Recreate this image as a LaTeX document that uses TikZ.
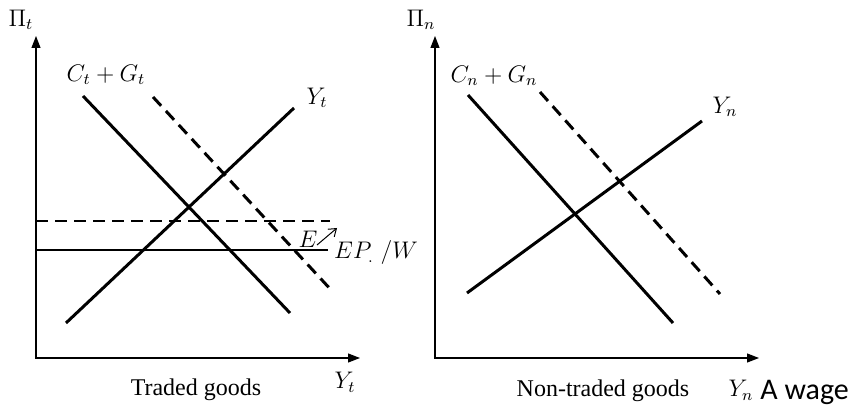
\documentclass[tikz,border=0pt]{standalone}
\usepackage{fontspec}
\setmainfont{Liberation Serif}
\newfontfamily\wagefont{Carlito}
\usepackage{amsmath, amssymb}
\usetikzlibrary{arrows.meta}

\begin{document}
\begin{tikzpicture}[x=0.5pt, y=-0.5pt,
    axis/.style={line width=0.6pt, {Triangle[length=6pt, width=4.5pt]}-{Triangle[length=6pt, width=4.5pt]}},
    curve/.style={line width=1.5pt},
    shifted/.style={curve, dash pattern=on 6pt off 3.5pt},
    every node/.style={inner sep=0pt, font=\fontsize{11.5}{13}\selectfont}]
    \useasboundingbox (0,0) rectangle (851,411);

    % Traded goods panel
    \coordinate (tTop) at (36,36);
    \coordinate (tO) at (36,358);
    \coordinate (tRight) at (360,358);
    \draw[axis] (tTop) -- (tO) -- (tRight);

    \coordinate (tCGa) at (83,96);
    \coordinate (tCGb) at (290,313);
    \coordinate (tCGda) at (153,97);
    \coordinate (tCGdb) at (333,292);
    \coordinate (tYa) at (66,323);
    \coordinate (tYb) at (294,108);
    \coordinate (tPda) at (36,221);
    \coordinate (tPdb) at (330,221);
    \coordinate (tPa) at (36,250);
    \coordinate (tPb) at (328,250);
    \coordinate (tEa) at (317,245);
    \coordinate (tEb) at (337,228);

    \draw[curve] (tCGa) -- (tCGb);
    \draw[shifted] (tCGda) -- (tCGdb);
    \draw[curve] (tYa) -- (tYb);
    \draw[line width=1pt, dash pattern=on 6pt off 3.5pt] (tPda) -- (tPdb);
    \draw[line width=1pt] (tPa) -- (tPb);
    \draw[line width=0.5pt, -{Straight Barb[length=3.5pt, width=5pt]}] (tEa) -- (tEb);

    \node (tPi) at (21,20) {$\Pi_t$};
    \node (tCGlab) at (106,75) {$C_t + G_t$};
    \node (tYlab) at (317,98) {$Y_t$};
    \node (tElab) at (308,239) {$E$};
    \node (tPlab) at (376,253) {$EP_{.}\;/W$};
    \node (tXlab) at (345,382) {$Y_t$};
    \node[font=\fontsize{12}{14}\selectfont] (tName) at (196,390) {Traded goods};

    % Non-traded goods panel
    \coordinate (nTop) at (435,36);
    \coordinate (nO) at (435,358);
    \coordinate (nRight) at (759,358);
    \draw[axis] (nTop) -- (nO) -- (nRight);

    \coordinate (nCGa) at (468,95);
    \coordinate (nCGb) at (673,323);
    \coordinate (nCGda) at (540,92);
    \coordinate (nCGdb) at (720,294);
    \coordinate (nYa) at (467,293);
    \coordinate (nYb) at (702,121);

    \draw[curve] (nCGa) -- (nCGb);
    \draw[shifted] (nCGda) -- (nCGdb);
    \draw[curve] (nYa) -- (nYb);

    \node (nPi) at (421,20) {$\Pi_n$};
    \node (nCGlab) at (494,76) {$C_n + G_n$};
    \node (nYlab) at (725,107) {$Y_n$};
    \node (nXlab) at (741,390) {$Y_n$};
    \node[font=\fontsize{12}{14}\selectfont] (nName) at (603,391) {Non-traded goods};

    \node[font=\wagefont\fontsize{15}{17}\selectfont, anchor=base west] (wage) at (760,399) {A wage};
\end{tikzpicture}
\end{document}
